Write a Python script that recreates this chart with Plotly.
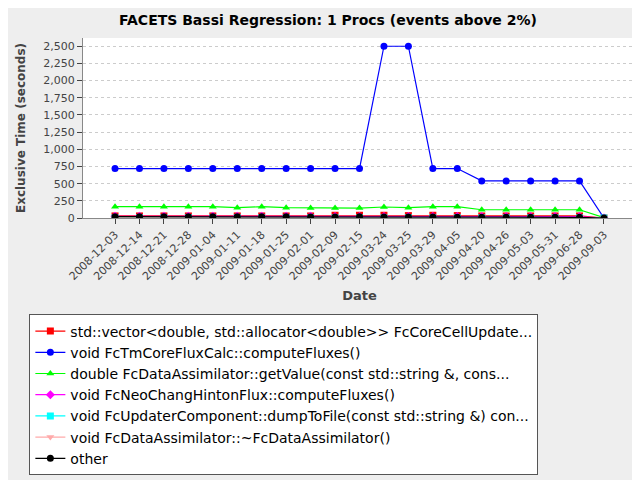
import plotly.graph_objects as go

dates = ["2008-12-03","2008-12-14","2008-12-21","2008-12-28","2009-01-04","2009-01-11","2009-01-18","2009-01-25","2009-02-01","2009-02-09","2009-02-15","2009-03-24","2009-03-25","2009-03-29","2009-04-05","2009-04-20","2009-04-26","2009-05-03","2009-05-31","2009-06-28","2009-09-03"]
red = [30,30,30,30,30,30,30,30,30,40,40,40,35,40,35,30,30,30,30,30,0]
blue = [720,720,720,720,720,720,720,720,720,720,720,2500,2500,720,720,540,540,540,540,540,0]
green = [165,165,165,165,165,150,165,150,145,145,145,160,150,165,165,120,120,120,120,120,5]
magenta = [25,25,25,25,25,25,25,25,25,20,20,20,20,20,20,20,20,20,20,20,0]
cyan = [2,2,2,2,2,2,2,2,2,2,2,2,2,2,2,2,2,2,2,2,0]
pink = [1,1,1,1,1,1,1,1,1,1,1,1,1,1,1,1,1,1,1,1,0]
other = [20,20,20,20,20,20,20,20,15,15,20,15,15,15,10,10,10,10,10,10,0]

names = ["std::vector<double, std::allocator<double>> FcCoreCellUpdate...",
         "void FcTmCoreFluxCalc::computeFluxes()",
         "double FcDataAssimilator::getValue(const std::string &, cons...",
         "void FcNeoChangHintonFlux::computeFluxes()",
         "void FcUpdaterComponent::dumpToFile(const std::string &) con...",
         "void FcDataAssimilator::~FcDataAssimilator()",
         "other"]
series = [red, blue, green, magenta, cyan, pink, other]
colors = ["#ff0000","#0000ff","#00ff00","#ff00ff","#00ffff","#ffaaaa","#000000"]
symbols = ["square","circle","triangle-up","diamond","square","triangle-down","circle"]

fig = go.Figure()
for n, s, c, m in zip(names, series, colors, symbols):
    fig.add_trace(go.Scatter(x=dates, y=s, name=n, mode="lines+markers",
                             line=dict(color=c, width=1.2), marker=dict(color=c, symbol=m, size=7)))

fig.update_layout(
    width=640, height=480, paper_bgcolor="#eeeeee", plot_bgcolor="white",
    margin=dict(l=60, r=12, t=30, b=258),
    title=dict(text="<b>FACETS Bassi Regression: 1 Procs (events above 2%)</b>", x=0.5, y=0.985,
               font=dict(family="DejaVu Sans", size=14, color="black")),
    font=dict(family="DejaVu Sans", size=11, color="#444"),
    showlegend=True,
    legend=dict(x=-0.097, y=-0.536, xanchor="left", yanchor="top", bgcolor="white",
                bordercolor="#555", borderwidth=1, font=dict(size=14, color="black"),
                tracegroupgap=0, itemwidth=30),
)
fig.update_xaxes(type="category", tickangle=-45, title=dict(text="<b>Date</b>", font=dict(size=13, color="#444"), standoff=8),
                 showgrid=False, showline=True, linecolor="#888", ticks="outside")
fig.update_yaxes(range=[0, 2620], tickvals=list(range(0, 2501, 250)), tickformat=",",
                 title=dict(text="<b>Exclusive Time (seconds)</b>", font=dict(size=12, color="#444")),
                 gridcolor="#cccccc", griddash="dot", showline=True, linecolor="#888", ticks="outside", zeroline=False)
fig.write_html("out.html")
